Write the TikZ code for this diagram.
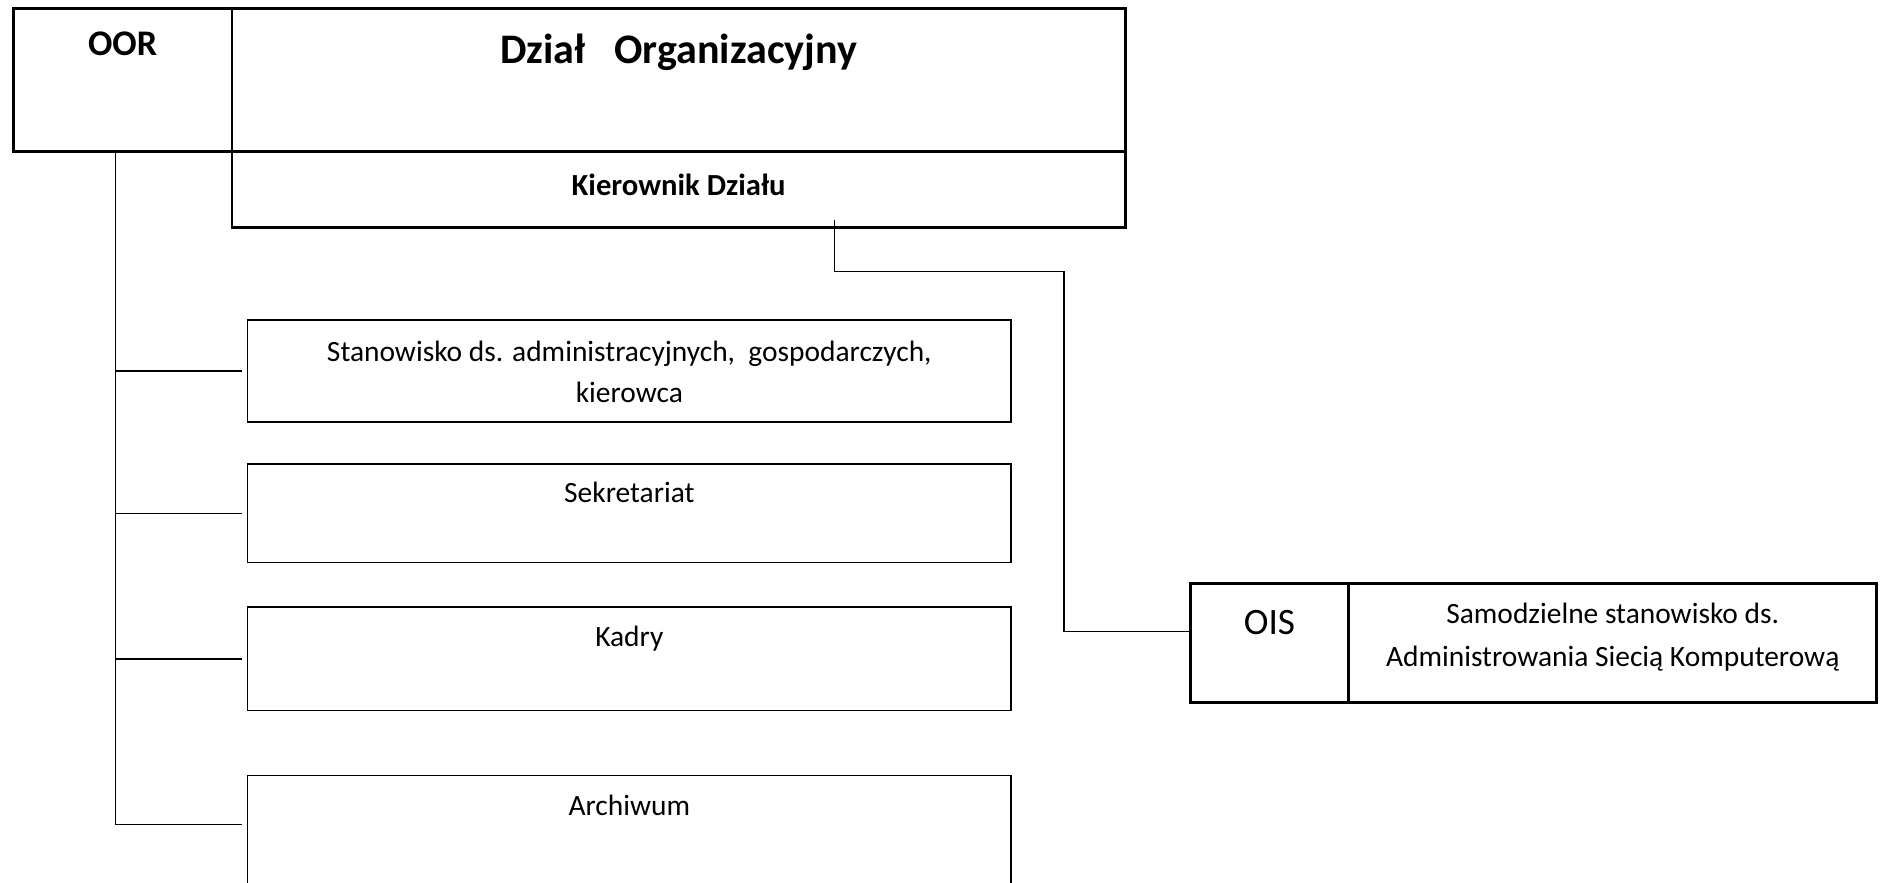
\documentclass[tikz,border=0pt]{standalone}
\usepackage{fontspec}
\setmainfont{Carlito}
\usetikzlibrary{positioning,calc}

\begin{document}
\begin{tikzpicture}[x=1pt, y=-1pt,
    box/.style={draw, rectangle, anchor=north west, inner sep=0pt, outer sep=0pt, line width=2.4pt},
    unit/.style={box, line width=1.2pt, minimum width=635pt},
    txt/.style={anchor=base, inner sep=0pt, align=center, font=\fontsize{24.5}{34}\selectfont},
    bold/.style={txt, font=\fontsize{#1}{#1}\selectfont\bfseries},
    link/.style={line width=1.2pt}]
  \useasboundingbox (0,0) rectangle (1568,733.7);

  % top of the department
  \node[box, minimum width=182pt, minimum height=119pt] (oor) at (11,7) {};
  \node[box, minimum width=743pt, minimum height=119pt] (dept) at (193,7) {};
  \node[box, minimum width=743pt, minimum height=63pt] (head) at (193,126) {};
  \node[bold=30] (oortxt) at ($(oor.north)+(0,39)$) {OOR};
  \node[bold=35] (depttxt) at ($(dept.north)+(0,46)$) {Dział~~ Organizacyjny};
  \node[bold=25.5] (headtxt) at ($(head.north)+(0,37)$) {Kierownik Działu};

  % units (base of a two-line text is its last line)
  \node[unit, minimum height=85pt] (stan) at (206,266) {};
  \node[unit, minimum height=82pt] (sek) at (206,386) {};
  \node[unit, minimum height=86pt] (kadry) at (206,505) {};
  \node[unit, minimum height=90pt] (arch) at (206,645) {};
  \node[txt] (stantxt) at ($(stan.north)+(0,69)$) {Stanowisko ds. administracyjnych,~ gospodarczych,\\kierowca};
  \node[txt] (sektxt) at ($(sek.north)+(0,32)$) {Sekretariat};
  \node[txt] (kadrytxt) at ($(kadry.north)+(0,33)$) {Kadry};
  \node[txt] (archtxt) at ($(arch.north)+(0,33)$) {Archiwum};

  % network post
  \node[box, minimum width=132pt, minimum height=99pt] (ois) at (990,485) {};
  \node[box, minimum width=439pt, minimum height=99pt] (oisdesc) at (1122,485) {};
  \node[txt, font=\fontsize{31}{31}\selectfont] (oistxt) at ($(ois.north)+(0,43)$) {OIS};
  \node[txt, font=\fontsize{24.5}{35}\selectfont] (oisdesctxt) at ($(oisdesc.north)+(0,69)$) {Samodzielne stanowisko ds.\\Administrowania Siecią Komputerową};

  % connectors
  \coordinate (trunk) at ([xshift=-6pt]oor.south);
  \coordinate (bend) at (885,226);
  \draw[link] (trunk) |- ([xshift=-5pt,yshift=4pt]arch.west);
  \foreach \n in {stan,sek,kadry}
    \draw[link] (trunk |- \n.west) -- ([xshift=-5pt]\n.west);
  \draw[link] ([xshift=129.5pt,yshift=6pt]head.south) |- (bend) |- ([yshift=9pt]ois.west);
\end{tikzpicture}
\end{document}
